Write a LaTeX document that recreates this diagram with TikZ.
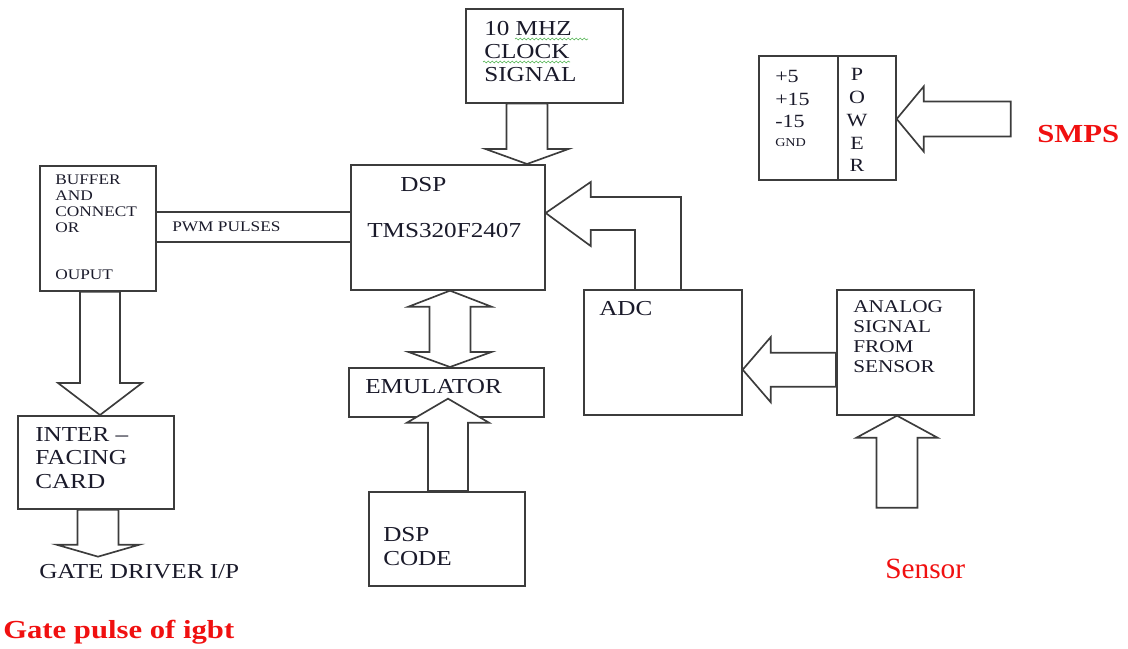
\documentclass[tikz,border=0pt]{standalone}
\usepackage{fontspec}
\setmainfont[FakeStretch=1.18]{Liberation Serif}
\newfontfamily\plainserif{Liberation Serif}
\usetikzlibrary{calc,decorations.pathmorphing}
\definecolor{lnc}{HTML}{3C3C3C}
\definecolor{txc}{HTML}{1A1A2A}
\definecolor{cred}{HTML}{F01010}
\definecolor{cgreen}{HTML}{5CB85C}
% fat block arrows: tail, tip, shaft half width, head half width, head length
\newcommand\fatv[5]{\draw[fatar] ($(#1)+(-#3,0)$) -- ($(#2)+(-#3,#5)$) -- ($(#2)+(-#4,#5)$) -- (#2)
  -- ($(#2)+(#4,#5)$) -- ($(#2)+(#3,#5)$) -- ($(#1)+(#3,0)$) -- cycle;}
\newcommand\fath[5]{\draw[fatar] ($(#1)+(0,-#3)$) -- ($(#2)+(#5,-#3)$) -- ($(#2)+(#5,-#4)$) -- (#2)
  -- ($(#2)+(#5,#4)$) -- ($(#2)+(#5,#3)$) -- ($(#1)+(0,#3)$) -- cycle;}

\begin{document}
\begin{tikzpicture}[x=0.75pt, y=-0.75pt, text=txc,
  font=\fontsize{16}{17.6}\selectfont,
  blk/.style={draw=lnc, line width=1.25pt, inner sep=0pt, anchor=north west},
  sz/.style 2 args={minimum width=#1*0.75pt, minimum height=#2*0.75pt},
  fatar/.style={draw=lnc, fill=white, line width=1.25pt},
  wire/.style={draw=lnc, line width=1.25pt},
  lbl/.style={inner sep=0pt, anchor=base west, align=left},
  smallt/.style={font=\fontsize{11}{12}\selectfont},
  midt/.style={font=\fontsize{14}{17.2}\selectfont},
  redt/.style={text=cred, font=\fontsize{19.5}{22}\selectfont\bfseries},
  squig/.style={cgreen, line width=0.5pt, decorate,
    decoration={snake, segment length=3pt, amplitude=0.7pt}}]
  \useasboundingbox (0,0) rectangle (1128,649);

  % blocks
  \node[blk, sz={157}{94}] (clock) at (465,8) {};
  \node[blk, sz={194}{125}] (dsp) at (350,164) {};
  \node[blk, sz={116}{125}] (buffer) at (39,165) {};
  \node[blk, sz={79}{124}] (pwrval) at (758,55) {};
  \node[blk, sz={58}{124}] (pwrtag) at (837,55) {};
  \node[blk, sz={158}{125}] (adc) at (583,289) {};
  \node[blk, sz={137}{125}] (analog) at (836,289) {};
  \node[blk, sz={195}{49}] (emul) at (348,367) {};
  \node[blk, sz={156}{93}] (iface) at (17,415) {};
  \node[blk, sz={156}{94}] (code) at (368,491) {};

  % texts (multi-line ones sit on their last baseline)
  \node[lbl] (clocktxt) at (484,82) {10 MHZ\\CLOCK\\SIGNAL};
  \draw[squig] (515,39) -- (588,39);
  \draw[squig] (483,62) -- (570,62);
  \node[lbl] (dsptxt) at (400,192) {DSP};
  \node[lbl] (chiptxt) at (367,238) {TMS320F2407};
  \node[lbl, smallt] (buftxt) at (55,233) {BUFFER\\AND\\CONNECT\\OR};
  \node[lbl, smallt] (outtxt) at (55,279) {OUPUT};
  \node[lbl, smallt] (pwmtxt) at (172,232) {PWM PULSES};
  \node[lbl, midt] (volttxt) at (775,128) {+5\\+15\\-15};
  \node[lbl, font=\fontsize{9}{10}\selectfont] (gndtxt) at (775,147) {GND};
  \node[inner sep=0pt, anchor=base, align=center, midt] (powtxt) at (857,172) {P\\O\\W\\E\\R};
  \node[lbl, redt] (smps) at (1037,143) {SMPS};
  \node[lbl] (adctxt) at (599,315) {ADC};
  \node[lbl, font=\fontsize{13.5}{15}\selectfont] (antxt) at (853,372) {ANALOG\\SIGNAL\\FROM\\SENSOR};
  \node[lbl] (emtxt) at (365,393) {EMULATOR};
  \node[lbl] (iftxt) at (35,488) {INTER –\\FACING\\CARD};
  \node[lbl, font=\fontsize{16}{17.3}\selectfont] (codetxt) at (383,565) {DSP\\CODE};
  \node[lbl] (gatetxt) at (39,578) {GATE DRIVER I/P};
  \node[lbl, text=cred, font=\plainserif\fontsize{22}{24}\selectfont] (sensor) at (885,578) {Sensor};
  \node[lbl, redt] (gpulse) at (3,638) {Gate pulse of igbt};

  % PWM pulses
  \coordinate (pw1) at ($(buffer.north east)+(0,47)$);
  \coordinate (pw2) at ($(buffer.north east)+(0,77)$);
  \draw[wire] (pw1) -- (pw1 -| dsp.west);
  \draw[wire] (pw2) -- (pw2 -| dsp.west);

  % clock to dsp
  \coordinate (ckT) at ($(dsp.north west)+(177,0)$);
  \coordinate (ckS) at (ckT |- clock.south);
  \fatv{ckS}{ckT}{20.5}{41.5}{-15}
  % buffer to interfacing card
  \coordinate (bfT) at ($(iface.north west)+(83,0)$);
  \coordinate (bfS) at (bfT |- buffer.south);
  \fatv{bfS}{bfT}{20}{42}{-32}
  % gate driver
  \coordinate (gtS) at ($(iface.south west)+(81,0)$);
  \coordinate (gtT) at ($(gtS)+(0,47)$);
  \fatv{gtS}{gtT}{20.5}{41.5}{-12}
  % dsp code to emulator
  \coordinate (cdS) at ($(code.north west)+(80,0)$);
  \coordinate (cdT) at ($(cdS |- emul.south)+(0,-19)$);
  \fatv{cdS}{cdT}{20}{41}{24}
  % sensor
  \coordinate (snT) at ($(analog.south west)+(61,0)$);
  \coordinate (snS) at ($(snT)+(0,92)$);
  \fatv{snS}{snT}{20.5}{40.5}{22}
  % analog signal to adc
  \coordinate (anT) at ($(adc.south east)+(0,-46)$);
  \coordinate (anS) at (anT -| analog.west);
  \fath{anS}{anT}{17}{32.5}{28}
  % smps to power
  \coordinate (spT) at ($(pwrtag.north east)+(0,64)$);
  \coordinate (spS) at ($(spT)+(114,0)$);
  \fath{spS}{spT}{17.5}{32.5}{27}
  % dsp <-> emulator
  \coordinate (emT1) at ($(dsp.south west)+(100,0)$);
  \coordinate (emT2) at (emT1 |- emul.north);
  \draw[fatar] (emT1) -- ++(41.5,16) -- ++(-21,0) -- ($(emT2)+(20.5,-15)$) -- ++(21,0) -- (emT2)
    -- ++(-41.5,-15) -- ++(21,0) -- ($(emT1)+(-20.5,16)$) -- ++(-21,0) -- cycle;
  % adc to dsp
  \coordinate (adT) at ($(dsp.north east)+(0,49)$);
  \coordinate (adS1) at ($(adc.north west)+(98,0)$);
  \coordinate (adS2) at ($(adc.north west)+(52,0)$);
  \draw[fatar, fill=none] (adS2) |- ($(adT)+(45,17)$) -- ++(0,16) -- (adT) -- ++(45,-31) -- ++(0,15) -| (adS1);
\end{tikzpicture}
\end{document}
